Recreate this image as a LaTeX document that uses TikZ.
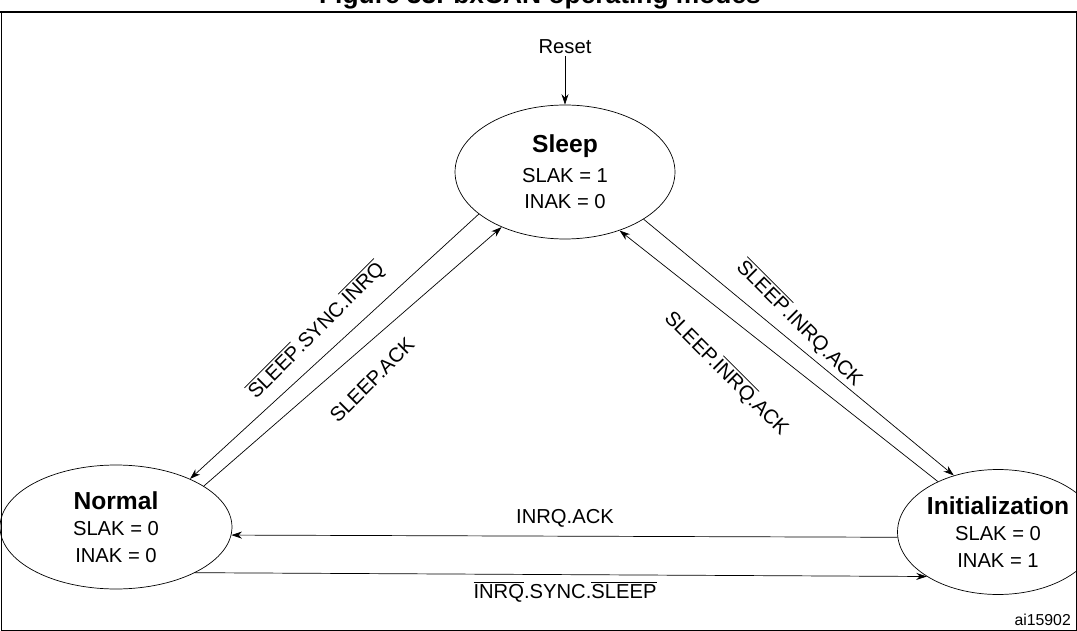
\documentclass[tikz,border=0pt]{standalone}
\usepackage{fontspec}
\setmainfont{Liberation Sans}
\usetikzlibrary{arrows.meta, shapes.geometric}
\newcommand{\ovl}[1]{\mbox{$\overline{\mbox{#1}}$}}
\tikzset{
  statenode/.style={ellipse, draw, thin, inner sep=0pt, align=center, font=\fontsize{11.5}{15}\selectfont},
  trans/.style={-{Stealth[length=6pt,width=4pt]}, thin},
  translabel/.style={font=\fontsize{11.5}{14}\selectfont, inner sep=1pt}
}
\begin{document}
\begin{tikzpicture}[x=0.02cm, y=-0.02cm]
  \useasboundingbox (0,0) rectangle (1077,631);
  % frame and title
  \node[font=\fontsize{15}{18}\selectfont\bfseries] (title) at (540,-3) {Figure 33. bxCAN operating modes};
  \draw[line width=1pt] (0,12) -- (1077,12);
  \draw[thin] (1,12) rectangle (1076,630);

  % states
  \node[statenode, minimum width=4.4cm, minimum height=2.68cm] (sleep) at (565,172)
    {{\fontsize{14}{18}\selectfont\bfseries Sleep}\\[2pt]SLAK = 1\\INAK = 0};
  \node[statenode, minimum width=4.64cm, minimum height=2.48cm] (normal) at (116,527)
    {{\fontsize{14}{18}\selectfont\bfseries Normal}\\SLAK = 0\\INAK = 0};
  \node[statenode, minimum width=3.2cm, minimum height=2.5cm] (init) at (998,532)
    {{\fontsize{14}{18}\selectfont\bfseries Initialization}\\SLAK = 0\\INAK = 1};

  % reset
  \node[translabel] (reset) at (565,47) {Reset};
  \draw[trans] (reset) -- (sleep);

  % transitions
  \draw[trans] (sleep.206) -- (normal.33);
  \draw[trans] (normal.25) -- (sleep.221);
  \draw[trans] (sleep.329) -- (init.128);
  \draw[trans] (init.140) -- (sleep.313);
  \draw[trans] (init.183) -- (normal.-4);
  \draw[trans] (normal.-30) -- (init.212);

  % labels
  \node[translabel, rotate=45] (lab1) at (316,330) {\ovl{SLEEP}.SYNC.\ovl{INRQ}};
  \node[translabel, rotate=45] (lab2) at (372,380) {SLEEP.ACK};
  \node[translabel, rotate=-45] (lab3) at (800,323) {\ovl{SLEEP}.INRQ.ACK};
  \node[translabel, rotate=-45] (lab4) at (727,373) {SLEEP.\ovl{INRQ}.ACK};
  \node[translabel] (lab5) at (565,518) {INRQ.ACK};
  \node[translabel] (lab6) at (565,592) {\ovl{INRQ}.SYNC.\ovl{SLEEP}};

  \node[font=\fontsize{9}{10}\selectfont, anchor=east] (ref) at (1077,620) {ai15902};
\end{tikzpicture}
\end{document}
